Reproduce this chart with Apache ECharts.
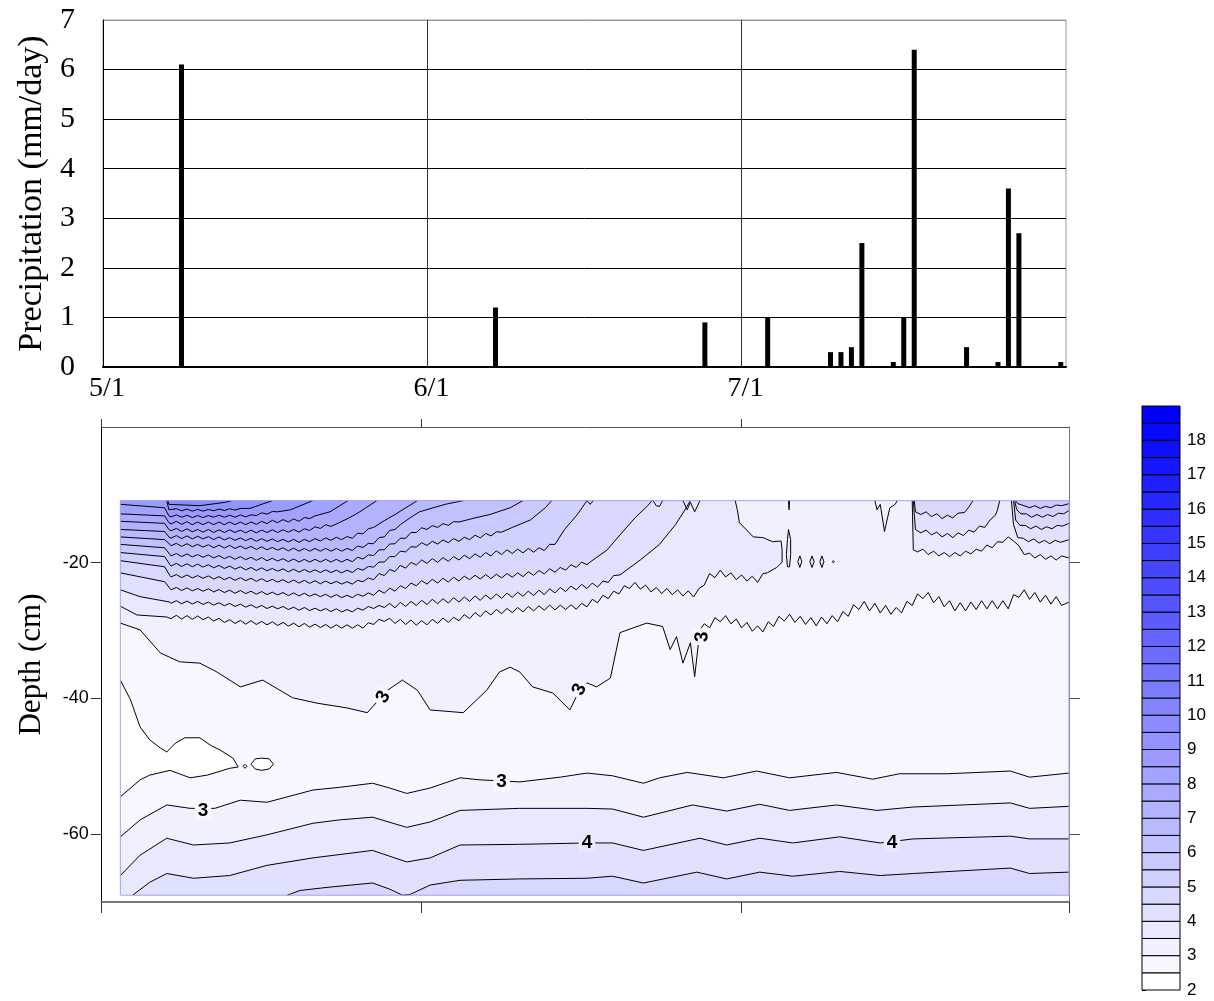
<!DOCTYPE html>
<html>
<head>
<meta charset="utf-8">
<title>Precipitation and soil moisture profile</title>
<script src="https://cdn.jsdelivr.net/npm/echarts@6.0.0/dist/echarts.min.js"></script>
<style>
  html, body { margin: 0; padding: 0; background: #fff; }
  #main { width: 1214px; height: 1001px; }
</style>
</head>
<body>
<div id="main"></div>
<script>
// ---------------- Daily precipitation ----------------
const rainDates   = ['5/8', '6/7', '6/27', '7/3', '7/9', '7/10', '7/11', '7/12', '7/15', '7/16', '7/17', '7/22', '7/25', '7/26', '7/27', '7/31'];
const rainAmounts = [6.1, 1.2, 0.9, 1.0, 0.3, 0.3, 0.4, 2.5, 0.1, 1.0, 6.4, 0.4, 0.1, 3.6, 2.7, 0.1];
const monthTicks  = ['5/1', '6/1', '7/1'];
const precipMax   = 7;

// ---------------- Soil moisture profile ----------------
// x: days after 5/1 on the profile panel, y: depth (cm)
const recordDays   = [1.75, 90.7];
const recordDepths = [-69.0, -10.85];
const panelDayTicks = [0, 30, 60, 90.7];
const depthTicks = [-60, -40, -20];
const contourLevels = [2, 2.5, 3, 3.5, 4, 4.5, 5, 5.5, 6, 6.5, 7, 7.5, 8, 8.5, 9, 9.5, 10, 10.5,
                       11, 11.5, 12, 12.5, 13, 13.5, 14, 14.5, 15, 15.5, 16, 16.5, 17, 17.5, 18, 18.5, 19];
const colorbarTicks = [2, 3, 4, 5, 6, 7, 8, 9, 10, 11, 12, 13, 14, 15, 16, 17, 18];

// isolines of the drying surface layer (wetter above), with the day/night ripple
const m30Upper = [[1.75,-28.9],[3.6,-29.9],[5.5,-33.3],[7.3,-34.6],[9.2,-34.8],[10.8,-36.1],[13.0,-38.3],[15.1,-37.3],[17.9,-39.9],[20.2,-40.7],[23.0,-41.4],[24.9,-42.1],[26.8,-38.8],[28.2,-37.3],[29.6,-38.8],[30.8,-41.7],[33.9,-42.1],[36.1,-38.8],[37.3,-36.1],[38.3,-35.4],[39.2,-36.1],[40.4,-38.3],[42.3,-39.2],[43.9,-41.7],[44.8,-38.8],[45.5,-37.7],[46.4,-38.3],[47.7,-37.0],[48.6,-30.3],[51.1,-28.9],[52.6,-29.4],[53.3,-32.8],[53.9,-30.9],[54.5,-34.8],[55.2,-31.8],[55.6,-36.8],[56.1,-29.9],
  [56.5,-29.0],[57.0,-29.6],[57.5,-28.1],[58.0,-28.7],[58.5,-27.8],[59.0,-29.0],[59.5,-28.3],[60.0,-29.6],[60.5,-28.8],[61.0,-30.1],[61.5,-29.3],[62.0,-30.2],[62.5,-28.7],[63.0,-29.4],[63.5,-27.9],[64.0,-28.6],[64.5,-27.6],[65.0,-28.8],[65.5,-27.9],[66.0,-29.1],[66.5,-28.1],[67.0,-29.3],[67.5,-28.0],[68.0,-29.0],[68.5,-27.8],[69.0,-28.7],[69.5,-27.2],[70.0,-27.9],[70.5,-26.2],[71.0,-26.9],[71.5,-25.7],[72.0,-27.1],[72.5,-26.0],[73.0,-27.4],[73.5,-26.3],[74.0,-27.6],[74.5,-26.6],[75.0,-27.4],[75.5,-25.7],[76.0,-26.3],[76.5,-24.6],[77.0,-25.3],[77.5,-24.4],[78.0,-25.9],[78.5,-25.0],[79.0,-26.5],[79.5,-25.6],[80.0,-27.1],[80.5,-25.9],[81.0,-27.1],[81.5,-25.8],[82.0,-26.9],[82.5,-25.6],[83.0,-26.8],[83.5,-25.6],[84.0,-26.8],[84.5,-25.6],[85.0,-26.8],[85.5,-24.7],[86.0,-25.1],[86.5,-24.0],[87.0,-25.4],[87.5,-24.4],[88.0,-25.8],[88.5,-24.8],[89.0,-26.1],[89.5,-25.0],[90.0,-26.3],[90.7,-25.8]];
const m35Upper = [[1.75,-26.4],[3.3,-27.7],[6.1,-28.0],
  [6.5,-28.25],[7.0,-27.75],[7.5,-28.3],[8.0,-27.8],[8.5,-28.35],[9.0,-27.85],[9.5,-28.4],[10.0,-28.0],[10.5,-28.6],[11.0,-28.2],[11.5,-28.8],[12.0,-28.4],[12.5,-28.95],[13.0,-28.5],[13.5,-29.05],[14.0,-28.55],[14.5,-29.1],[15.0,-28.65],[15.5,-29.15],[16.0,-28.7],[16.5,-29.25],[17.0,-28.8],[17.5,-29.35],[18.0,-28.9],[18.5,-29.45],[19.0,-28.95],[19.5,-29.5],[20.0,-29.05],[20.5,-29.55],[21.0,-29.1],[21.5,-29.65],[22.0,-29.15],[22.5,-29.65],[23.0,-29.15],[23.5,-29.65],[24.0,-29.15],[24.5,-29.65],[25.0,-28.85],[25.5,-29.1],[26.0,-28.35],[26.5,-28.65],[27.0,-28.2],
  [27.5,-28.95],[28.0,-28.35],[28.5,-29.1],[29.0,-28.45],[29.5,-29.2],[30.0,-28.55],[30.5,-29.15],[31.0,-28.35],[31.5,-28.95],[32.0,-28.15],[32.5,-28.8],[33.0,-28.05],[33.5,-28.55],[34.0,-27.65],[34.5,-28.25],[35.0,-27.35],[35.5,-27.95],[36.0,-27.1],[36.5,-27.7],[37.0,-26.9],[37.5,-27.5],[38.0,-26.75],[38.5,-27.35],[39.0,-26.6],[39.5,-27.25],[40.0,-26.45],[40.5,-27.1],[41.0,-26.35],[41.5,-27.0],[42.0,-26.25],[42.5,-26.95],[43.0,-26.25],[43.5,-26.9],[44.0,-26.2],[44.5,-26.85],[45.0,-26.0],
  [45.5,-26.5],[46.0,-25.4],[46.5,-25.9],[47.0,-24.8],[47.5,-25.3],[48.0,-24.2],[48.5,-24.6],[49.0,-23.4],[49.5,-23.8],[50.0,-22.9],[50.5,-23.9],[51.0,-23.3],[51.5,-24.3],[52.0,-23.65],[52.5,-24.55],[53.0,-23.8],[53.5,-24.7],[54.0,-24.0],[54.5,-24.9],[55.0,-24.15],[55.5,-25.05],[56.0,-23.8],[56.5,-23.3],[57.0,-21.6],[57.5,-22.2],[58.0,-21.1],[58.5,-22.1],[59.0,-21.5],[59.5,-22.5],[60.0,-21.8],[60.5,-22.7],[61.0,-22.0],[61.5,-22.9],[62.0,-21.6],[62.4,-21.5],
  [63.3,-20.7],[63.8,-19.9],[63.8,-18.1],[63.7,-16.8],[62.9,-16.9],[62.0,-16.3],[61.1,-16.2],[59.8,-14.1],[59.6,-12.2],[59.4,-10.85]];
const m40Upper = [[1.75,-24.0],[3.6,-25.0],[6.4,-25.8],
  [6.5,-26.0],[7.0,-25.6],[7.5,-26.05],[8.0,-25.65],[8.5,-26.1],[9.0,-25.7],[9.5,-26.15],[10.0,-25.8],[10.5,-26.25],[11.0,-25.9],[11.5,-26.35],[12.0,-26.0],[12.5,-26.45],[13.0,-26.1],[13.5,-26.55],[14.0,-26.2],[14.5,-26.65],[15.0,-26.3],[15.5,-26.75],[16.0,-26.4],[16.5,-26.8],[17.0,-26.45],[17.5,-26.9],[18.0,-26.55],[18.5,-27.0],[19.0,-26.6],[19.5,-27.05],[20.0,-26.7],[20.5,-27.1],[21.0,-26.75],[21.5,-27.2],[22.0,-26.8],[22.5,-27.25],[23.0,-26.9],[23.5,-27.25],[24.0,-26.7],[24.5,-27.0],[25.0,-26.45],[25.5,-26.75],[26.0,-26.3],[26.5,-26.6],
  [27.0,-26.0],[27.5,-26.65],[28.0,-25.85],[28.5,-26.45],[29.0,-25.7],[29.5,-26.3],[30.0,-25.55],[30.5,-26.15],[31.0,-25.4],[31.5,-26.05],[32.0,-25.3],[32.5,-25.95],[33.0,-25.15],[33.5,-25.8],[34.0,-25.05],[34.5,-25.7],[35.0,-24.9],[35.5,-25.55],[36.0,-24.75],[36.5,-25.4],[37.0,-24.6],[37.5,-25.25],[38.0,-24.5],[38.5,-25.1],[39.0,-24.35],[39.5,-24.95],[40.0,-24.2],[40.5,-24.85],[41.0,-24.05],[41.5,-24.7],[42.0,-23.85],[42.5,-24.45],[43.0,-23.65],[43.5,-24.25],[44.0,-23.45],[44.5,-24.0],[45.0,-23.2],[45.5,-23.8],[46.0,-23.0],[46.5,-23.6],[47.0,-22.7],[47.5,-22.9],[48.0,-21.9],
  [48.6,-21.8],[50.5,-19.6],[52.3,-17.3],[53.8,-14.4],[54.7,-12.2],[55.2,-10.85]];
const m45Upper = [[1.75,-21.5],[5.9,-22.8],[6.4,-23.8],
  [6.5,-24.0],[7.0,-23.65],[7.5,-24.1],[8.0,-23.7],[8.5,-24.15],[9.0,-23.8],[9.5,-24.2],[10.0,-23.85],[10.5,-24.3],[11.0,-23.95],[11.5,-24.4],[12.0,-24.05],[12.5,-24.5],[13.0,-24.1],[13.5,-24.55],[14.0,-24.2],[14.5,-24.65],[15.0,-24.25],[15.5,-24.7],[16.0,-24.35],[16.5,-24.75],[17.0,-24.4],[17.5,-24.85],[18.0,-24.45],[18.5,-24.9],[19.0,-24.5],[19.5,-24.95],[20.0,-24.6],[20.5,-25.0],[21.0,-24.65],[21.5,-25.1],[22.0,-24.7],[22.5,-25.15],[23.0,-24.8],[23.5,-25.15],[24.0,-24.65],[24.5,-24.95],[25.0,-24.45],
  [25.5,-24.8],[26.0,-24.05],[26.5,-24.5],[27.0,-23.75],[27.5,-24.2],[28.0,-23.4],[28.5,-23.8],[29.0,-23.0],[29.5,-23.4],[30.0,-22.65],[30.5,-23.15],[31.0,-22.45],[31.5,-23.0],[32.0,-22.3],[32.5,-22.85],[33.0,-22.15],[33.5,-22.7],[34.0,-22.0],[34.5,-22.5],[35.0,-21.85],[35.5,-22.4],[36.0,-21.75],[36.5,-22.35],[37.0,-21.7],[37.5,-22.25],[38.0,-21.6],[38.5,-22.15],[39.0,-21.5],[39.5,-22.05],[40.0,-21.35],[40.5,-21.85],[41.0,-21.15],[41.5,-21.65],[42.0,-20.9],[42.5,-21.4],[43.0,-20.7],[43.5,-21.1],[44.0,-20.3],[44.5,-20.7],[45.0,-19.9],[45.5,-20.3],
  [45.8,-19.9],[47.4,-18.1],[48.6,-15.9],[50.0,-13.4],[51.2,-11.6],[51.6,-10.85]];
const m50Upper = [[1.75,-19.7],[5.9,-20.6],[6.4,-21.9],
  [6.5,-22.1],[7.0,-21.75],[7.5,-22.2],[8.0,-21.8],[8.5,-22.25],[9.0,-21.9],[9.5,-22.3],[10.0,-21.95],[10.5,-22.4],[11.0,-22.05],[11.5,-22.5],[12.0,-22.15],[12.5,-22.6],[13.0,-22.2],[13.5,-22.65],[14.0,-22.3],[14.5,-22.75],[15.0,-22.35],[15.5,-22.8],[16.0,-22.45],[16.5,-22.85],[17.0,-22.5],[17.5,-22.95],[18.0,-22.55],[18.5,-23.0],[19.0,-22.6],[19.5,-23.05],[20.0,-22.65],[20.5,-23.1],[21.0,-22.7],[21.5,-23.1],[22.0,-22.75],[22.5,-23.15],[23.0,-22.8],[23.5,-23.15],[24.0,-22.6],[24.5,-22.8],[25.0,-22.25],
  [25.5,-22.5],[26.0,-21.6],[26.5,-21.9],[27.0,-21.0],[27.5,-21.3],[28.0,-20.4],[28.5,-20.8],[29.0,-19.95],[29.5,-20.35],[30.0,-19.6],[30.5,-20.1],[31.0,-19.4],[31.5,-19.95],[32.0,-19.25],[32.5,-19.8],[33.0,-19.1],[33.5,-19.6],[34.0,-18.9],[34.5,-19.4],[35.0,-18.7],[35.5,-19.2],[36.0,-18.5],[36.5,-19.0],[37.0,-18.25],[37.5,-18.8],[38.0,-18.1],[38.5,-18.65],[39.0,-18.0],[39.5,-18.55],[40.0,-17.9],[40.5,-18.45],[41.0,-17.8],[41.5,-18.2],[42.0,-17.3],[42.5,-17.3],
  [43.4,-15.1],[44.6,-12.9],[45.5,-10.85]];
const m55Upper = [[1.75,-18.5],[5.9,-19.1],[6.4,-20.3],
  [6.5,-20.5],[7.0,-20.1],[7.5,-20.55],[8.0,-20.15],[8.5,-20.6],[9.0,-20.2],[9.5,-20.65],[10.0,-20.3],[10.5,-20.75],[11.0,-20.4],[11.5,-20.85],[12.0,-20.5],[12.5,-20.95],[13.0,-20.6],[13.5,-21.05],[14.0,-20.7],[14.5,-21.15],[15.0,-20.75],[15.5,-21.2],[16.0,-20.85],[16.5,-21.25],[17.0,-20.9],[17.5,-21.35],[18.0,-20.95],[18.5,-21.4],[19.0,-21.0],[19.5,-21.4],[20.0,-21.05],[20.5,-21.45],[21.0,-21.05],[21.5,-21.45],[22.0,-21.1],[22.5,-21.5],[23.0,-21.1],[23.5,-21.45],[24.0,-20.85],[24.5,-21.1],[25.0,-20.55],[25.5,-20.65],[26.0,-19.9],[26.5,-19.9],[27.0,-19.1],[27.5,-19.1],[28.0,-18.3],[28.5,-18.4],[29.0,-17.65],[29.5,-17.7],[30.0,-17.05],[30.5,-17.45],[31.0,-16.85],[31.5,-17.25],[32.0,-16.65],[32.5,-17.05],[33.0,-16.45],[33.5,-16.85],[34.0,-16.25],[34.5,-16.6],[35.0,-15.95],[35.5,-16.35],[36.0,-15.7],[36.5,-16.05],[37.0,-15.45],[37.5,-15.5],
  [38.5,-14.8],[40.2,-13.7],[41.6,-11.9],[42.2,-10.85]];
const m60Upper = [[1.75,-17.3],[5.9,-17.8],[6.4,-18.8],
  [6.5,-19.0],[7.0,-18.65],[7.5,-19.1],[8.0,-18.7],[8.5,-19.15],[9.0,-18.8],[9.5,-19.2],[10.0,-18.85],[10.5,-19.3],[11.0,-18.95],[11.5,-19.4],[12.0,-19.05],[12.5,-19.5],[13.0,-19.1],[13.5,-19.55],[14.0,-19.2],[14.5,-19.65],[15.0,-19.25],[15.5,-19.7],[16.0,-19.35],[16.5,-19.75],[17.0,-19.4],[17.5,-19.85],[18.0,-19.45],[18.5,-19.9],[19.0,-19.5],[19.5,-19.9],[20.0,-19.5],[20.5,-19.9],[21.0,-19.5],[21.5,-19.9],[22.0,-19.5],[22.5,-19.9],[23.0,-19.5],[23.5,-19.85],[24.0,-19.2],[24.5,-19.45],[25.0,-18.85],[25.5,-18.95],[26.0,-18.1],[26.5,-18.1],[27.0,-17.25],[27.5,-17.2],[28.0,-16.4],[28.5,-16.4],[29.0,-15.55],[29.5,-15.55],[30.0,-14.85],[30.5,-15.1],[31.0,-14.55],[31.5,-14.8],[32.0,-14.25],[32.5,-14.5],[33.0,-13.95],[33.5,-14.0],
  [35.0,-13.4],[36.4,-12.9],[38.3,-11.9],[39.5,-10.85]];
const m65Upper = [[1.75,-16.2],[5.9,-16.6],[6.4,-17.3],
  [6.5,-17.5],[7.0,-17.15],[7.5,-17.6],[8.0,-17.2],[8.5,-17.65],[9.0,-17.3],[9.5,-17.7],[10.0,-17.35],[10.5,-17.8],[11.0,-17.4],[11.5,-17.85],[12.0,-17.45],[12.5,-17.9],[13.0,-17.55],[13.5,-17.95],[14.0,-17.6],[14.5,-18.05],[15.0,-17.65],[15.5,-18.1],[16.0,-17.75],[16.5,-18.15],[17.0,-17.8],[17.5,-18.25],[18.0,-17.85],[18.5,-18.3],[19.0,-17.9],[19.5,-18.3],[20.0,-17.9],[20.5,-18.3],[21.0,-17.9],[21.5,-18.3],[22.0,-17.9],[22.5,-18.3],[23.0,-17.9],[23.5,-18.2],[24.0,-17.55],[24.5,-17.75],[25.0,-17.15],[25.5,-17.2],[26.0,-16.3],[26.5,-16.2],[27.0,-15.25],[27.5,-15.1],[28.0,-14.4],
  [29.0,-13.3],[29.8,-12.5],[32.2,-11.4],[33.9,-10.85]];
const m70Upper = [[1.75,-15.1],[5.9,-15.4],[6.3,-16.2],
  [6.5,-16.4],[7.0,-16.0],[7.5,-16.45],[8.0,-16.05],[8.5,-16.5],[9.0,-16.1],[9.5,-16.5],[10.0,-16.15],[10.5,-16.6],[11.0,-16.2],[11.5,-16.65],[12.0,-16.3],[12.5,-16.7],[13.0,-16.35],[13.5,-16.75],[14.0,-16.4],[14.5,-16.85],[15.0,-16.45],[15.5,-16.85],[16.0,-16.5],[16.5,-16.9],[17.0,-16.55],[17.5,-16.95],[18.0,-16.55],[18.5,-17.0],[19.0,-16.55],[19.5,-16.9],[20.0,-16.45],[20.5,-16.8],[21.0,-16.35],[21.5,-16.7],[22.0,-16.25],[22.5,-16.6],[23.0,-16.15],[23.5,-16.4],[24.0,-15.65],[24.5,-15.75],[25.0,-15.0],[25.5,-14.8],
  [26.5,-13.8],[27.5,-12.9],[29.6,-10.85]];
const m75Upper = [[1.75,-13.9],[5.9,-14.2],[6.3,-15.1],
  [6.5,-15.3],[7.0,-14.95],[7.5,-15.4],[8.0,-15.0],[8.5,-15.45],[9.0,-15.1],[9.5,-15.5],[10.0,-15.1],[10.5,-15.55],[11.0,-15.15],[11.5,-15.55],[12.0,-15.15],[12.5,-15.55],[13.0,-15.2],[13.5,-15.6],[14.0,-15.2],[14.5,-15.6],[15.0,-15.2],[15.5,-15.55],[16.0,-15.15],[16.5,-15.55],[17.0,-15.15],[17.5,-15.5],[18.0,-15.1],[18.5,-15.5],[19.0,-15.0],[19.5,-15.25],[20.0,-14.7],[20.5,-14.95],[21.0,-14.4],[21.5,-14.65],[22.0,-14.3],
  [23.2,-13.4],[24.2,-12.5],[25.8,-10.85]];
const m80Upper = [[1.75,-12.8],[5.9,-13.1],[6.3,-14.1],
  [6.5,-14.3],[7.0,-13.9],[7.5,-14.35],[8.0,-13.95],[8.5,-14.4],[9.0,-14.0],[9.5,-14.4],[10.0,-14.0],[10.5,-14.4],[11.0,-14.0],[11.5,-14.4],[12.0,-14.0],[12.5,-14.4],[13.0,-14.0],[13.5,-14.4],[14.0,-14.0],[14.5,-14.35],[15.0,-13.9],[15.5,-14.25],[16.0,-13.75],[16.5,-14.1],[17.0,-13.65],[17.5,-14.0],[18.0,-13.55],[18.5,-13.9],[19.0,-13.35],[19.5,-13.5],[20.0,-13.1],
  [21.4,-12.5],[23.1,-10.85]];
const m85Upper = [[1.75,-11.4],[5.9,-11.9],[6.3,-13.1],
  [6.5,-13.25],[7.0,-12.95],[7.5,-13.3],[8.0,-13.0],[8.5,-13.35],[9.0,-13.05],[9.5,-13.35],[10.0,-13.05],[10.5,-13.3],[11.0,-13.0],[11.5,-13.3],[12.0,-13.0],[12.5,-13.3],[13.0,-12.95],[13.5,-13.25],[14.0,-12.95],[14.5,-13.05],[15.0,-12.65],[15.5,-12.85],[16.0,-12.45],[16.5,-12.5],
  [17.7,-12.2],[19.8,-10.85]];
const m90Upper = [[6.1,-10.85],[6.3,-12.2],[7.0,-12.05],[7.5,-12.35],[8.0,-12.1],[8.5,-12.4],[9.0,-12.15],[9.5,-12.4],[10.0,-12.15],[10.5,-12.35],[11.0,-12.1],[11.5,-12.3],[12.0,-12.05],[12.5,-12.25],[13.0,-12.0],[13.9,-12.0],[16.0,-10.85]];
const m95Upper = [[6.2,-10.85],[6.3,-11.4],[9.2,-11.6],[11.6,-11.1],[12.2,-10.85]];

// wetting fronts after the July storms
const m35July = [[76.0,-10.85],[76.1,-18.1],[76.5,-18.4],[77.0,-18.0],[77.5,-18.8],[78.0,-18.3],[78.5,-19.0],[79.0,-18.5],[79.5,-19.1],[80.0,-18.5],[80.5,-19.0],[81.0,-18.3],[81.5,-18.7],[82.0,-18.0],[82.5,-18.3],[83.0,-17.4],[83.5,-17.8],[84.0,-16.9],[84.5,-17.0],[85.0,-16.2],[85.5,-16.8],[86.0,-17.5],[86.5,-18.8],[87.0,-18.6],[87.5,-19.3],[88.0,-18.8],[88.5,-19.5],[89.0,-19.0],[89.5,-19.6],[90.0,-19.0],[90.7,-19.3]];
const m40July = [[76.1,-10.85],[76.3,-15.1],[76.8,-15.6],[77.3,-15.2],[77.8,-15.9],[78.3,-15.5],[78.8,-16.2],[79.3,-15.7],[79.8,-16.3],[80.3,-15.6],[80.8,-16.0],[81.3,-15.2],[81.8,-15.5],[82.3,-14.6],[82.8,-14.8],[83.3,-13.7],[83.8,-13.0],[84.0,-12.2],[84.2,-10.85]];
const m45July = [[76.2,-10.85],[76.3,-12.5],[76.8,-12.9],[77.3,-12.5],[77.8,-13.2],[78.3,-12.8],[78.8,-13.5],[79.3,-13.0],[79.8,-13.4],[80.3,-12.7],[80.9,-12.6],[81.3,-11.8],[81.7,-10.85]];
const m40LateJuly = [[85.3,-10.85],[85.5,-14.4],[85.9,-16.3],[86.4,-16.4],[86.9,-16.9],[87.4,-16.5],[87.9,-17.1],[88.4,-16.7],[88.9,-17.2],[89.4,-16.7],[89.9,-17.0],[90.7,-16.6]];
const m45LateJuly = [[85.5,-10.85],[85.7,-13.7],[86.1,-14.5],[86.6,-14.5],[87.1,-15.0],[87.6,-14.6],[88.1,-15.1],[88.6,-14.7],[89.1,-15.0],[89.6,-14.5],[90.1,-14.6],[90.7,-14.2]];
const m50LateJuly = [[85.6,-10.85],[85.8,-12.2],[86.2,-12.8],[86.7,-12.8],[87.2,-13.3],[87.7,-12.9],[88.2,-13.3],[88.7,-12.9],[89.2,-13.2],[89.7,-12.7],[90.2,-12.8],[90.7,-12.3]];
const m55LateJuly = [[85.7,-10.85],[85.9,-11.3],[86.5,-11.6],[87.0,-11.9],[87.5,-11.6],[88.0,-12.0],[88.5,-11.7],[89.0,-11.9],[89.5,-11.5],[90.0,-11.6],[90.7,-11.3]];

// dry pocket at mid depth (drier inside)
const m25Pocket = [[1.75,-37.3],[2.7,-40.2],[3.6,-44.2],[4.5,-46.1],[5.5,-47.3],[6.1,-47.9],[6.9,-46.6],[7.8,-45.8],[9.2,-45.8],[10.2,-46.9],[11.1,-47.6],[12.3,-48.8],[12.8,-50.1],[12.0,-50.3],[9.9,-51.3],[8.3,-51.7],[6.4,-50.6],[4.5,-51.3],[3.6,-52.0],[1.75,-54.5]];
const m25IsleA = [[13.25,-50.0],[13.43,-49.7],[13.62,-50.0],[13.43,-50.3]];
const m25IsleB = [[14.0,-49.7],[14.4,-48.9],[15.0,-48.8],[15.7,-48.9],[16.1,-49.7],[15.7,-50.4],[15.0,-50.6],[14.4,-50.4]];

// small cells near the tongue tip (wetter inside)
const m35CellA = [[64.4,-15.1],[64.6,-16.6],[64.6,-18.8],[64.5,-20.6],[64.3,-20.6],[64.2,-18.8],[64.3,-16.6]];
const m35CellB = [[65.46,-19.0],[65.65,-19.85],[65.46,-20.7],[65.27,-19.85]];
const m35CellC = [[66.6,-19.0],[66.8,-19.85],[66.6,-20.7],[66.4,-19.85]];
const m35CellD = [[67.53,-19.0],[67.72,-19.85],[67.53,-20.7],[67.34,-19.85]];
const m35CellE = [[68.5,-19.85],[68.6,-19.7],[68.7,-19.85],[68.6,-20.0]];

// short ripples at the shallowest sensor
const rippleA = [[45.5,-10.85],[45.8,-11.4],[46.1,-10.85]];
const rippleB = [[51.7,-10.85],[52.0,-11.6],[52.3,-11.7],[52.6,-10.85]];
const rippleC = [[54.5,-10.85],[54.9,-12.2],[55.2,-11.1],[55.6,-12.5],[56.1,-10.85]];
const rippleD = [[64.4,-10.85],[64.45,-12.2],[64.5,-10.85]];
const rippleE = [[72.5,-10.85],[72.7,-12.2],[73.0,-11.4],[73.4,-15.4],[73.9,-11.9],[74.4,-11.4],[74.6,-10.85]];

// isolines of the wetter subsoil (wetter below)
const m30Lower = [[1.75,-60.4],[3.6,-57.9],[6.1,-55.7],[8.3,-56.2],[10.6,-56.2],[13.0,-55.0],[15.5,-55.3],[19.8,-53.5],[22.3,-53.1],[25.4,-52.5],[27.0,-53.2],[28.6,-54.0],[30.8,-53.2],[33.6,-51.7],[35.5,-52.0],[39.2,-52.3],[43.0,-51.6],[45.5,-51.0],[47.9,-51.4],[50.8,-52.5],[52.3,-51.7],[54.9,-50.9],[58.3,-51.7],[61.4,-50.7],[64.5,-51.7],[68.9,-50.9],[72.3,-51.9],[74.8,-51.1],[79.3,-51.1],[85.2,-50.7],[87.0,-51.6],[90.7,-51.0]];
const m35Lower = [[1.75,-66.1],[3.6,-63.1],[6.1,-60.6],[8.6,-61.6],[12.0,-61.3],[15.5,-60.1],[19.8,-58.4],[22.3,-57.9],[25.4,-57.5],[28.6,-59.0],[30.8,-58.2],[33.6,-56.5],[39.2,-56.2],[45.5,-56.2],[47.9,-56.3],[50.8,-57.5],[55.4,-55.7],[58.6,-56.6],[61.7,-55.6],[64.5,-56.5],[68.9,-55.7],[72.7,-56.5],[76.1,-56.0],[85.2,-55.4],[87.0,-56.2],[90.7,-55.9]];
const m40Lower = [[2.9,-69.0],[4.5,-67.1],[6.1,-65.8],[8.6,-66.5],[12.0,-66.1],[15.5,-64.6],[19.8,-63.5],[25.4,-62.4],[28.6,-64.1],[30.8,-63.5],[33.6,-61.6],[39.2,-61.5],[45.5,-61.3],[47.9,-61.3],[50.8,-62.4],[56.1,-60.6],[58.6,-61.6],[61.7,-60.6],[64.8,-61.3],[69.2,-60.4],[73.0,-61.3],[76.1,-60.7],[85.2,-60.3],[87.0,-60.7],[90.7,-60.7]];
const m45Lower = [[17.4,-69.0],[18.6,-68.3],[21.4,-67.8],[25.4,-67.2],[27.0,-68.1],[28.2,-69.0],[28.9,-68.9],[30.8,-67.5],[33.6,-66.8],[39.2,-66.6],[45.5,-66.5],[47.9,-66.2],[50.8,-67.2],[55.8,-65.6],[58.6,-66.6],[61.7,-65.6],[64.8,-66.2],[69.2,-65.5],[73.0,-66.1],[76.1,-65.8],[85.2,-65.0],[87.0,-65.8],[90.7,-65.6]];

// contour set: level, vertices, which side of the traced direction is wetter
const soilContours = [
  { level: 2.5, pts: m25Pocket, wet: 'left' },
  { level: 2.5, pts: m25IsleA, closed: true, wet: 'outside' },
  { level: 2.5, pts: m25IsleB, closed: true, wet: 'outside' },
  { level: 3.0, pts: m30Upper, wet: 'left' },
  { level: 3.0, pts: m30Lower, wet: 'right' },
  { level: 3.5, pts: m35Upper, wet: 'left' },
  { level: 3.5, pts: m35Lower, wet: 'right' },
  { level: 3.5, pts: m35July, wet: 'left' },
  { level: 3.5, pts: m35CellA, closed: true, wet: 'inside' },
  { level: 3.5, pts: m35CellB, closed: true, wet: 'inside' },
  { level: 3.5, pts: m35CellC, closed: true, wet: 'inside' },
  { level: 3.5, pts: m35CellD, closed: true, wet: 'inside' },
  { level: 3.5, pts: m35CellE, closed: true, wet: 'inside' },
  { level: 4.0, pts: m40Upper, wet: 'left' },
  { level: 4.0, pts: m40Lower, wet: 'right' },
  { level: 4.0, pts: m40July, wet: 'left' },
  { level: 4.0, pts: m40LateJuly, wet: 'left' },
  { level: 4.5, pts: m45Upper, wet: 'left' },
  { level: 4.5, pts: m45Lower, wet: 'right' },
  { level: 4.5, pts: m45July, wet: 'left' },
  { level: 4.5, pts: m45LateJuly, wet: 'left' },
  { level: 5.0, pts: m50Upper, wet: 'left' },
  { level: 5.0, pts: m50LateJuly, wet: 'left' },
  { level: 5.5, pts: m55Upper, wet: 'left' },
  { level: 5.5, pts: m55LateJuly, wet: 'left' },
  { level: 6.0, pts: m60Upper, wet: 'left' },
  { level: 6.5, pts: m65Upper, wet: 'left' },
  { level: 7.0, pts: m70Upper, wet: 'left' },
  { level: 7.5, pts: m75Upper, wet: 'left' },
  { level: 8.0, pts: m80Upper, wet: 'left' },
  { level: 8.5, pts: m85Upper, wet: 'left' },
  { level: 9.0, pts: m90Upper, wet: 'left' },
  { level: 9.5, pts: m95Upper, wet: 'left' }
];
const soilRipples = [rippleA, rippleB, rippleC, rippleD, rippleE];

// where the level numbers sit on their isolines
const contourLabelSpots = [
  { line: m30Upper, at: [26.4, -39.8], angle: 60 },
  { line: m30Upper, at: [44.8, -38.7], angle: 65 },
  { line: m30Upper, at: [56.3, -30.9], angle: 88 },
  { line: m30Lower, at: [9.5, -56.5], angle: 0 },
  { line: m30Lower, at: [37.5, -52.3], angle: 0 },
  { line: m40Lower, at: [45.5, -61.3], angle: 0 },
  { line: m40Lower, at: [74.1, -61.2], angle: 0 }
];

// ---------------- helpers ----------------
const monthStart = { 5: 0, 6: 31, 7: 61, 8: 92 };
function dayOf(md) {
  const parts = md.split('/').map(Number);
  return monthStart[parts[0]] + parts[1] - 1;
}
function bandColor(level) {
  const i = Math.round((level - contourLevels[0]) / 0.5);
  const n = contourLevels.length - 2;
  const c = Math.round(255 * (1 - i / n));
  return 'rgb(' + c + ',' + c + ',255)';
}

const SERIF = '"Times New Roman", "Liberation Serif", serif';
const SANS = 'Arial, "Liberation Sans", sans-serif';

const rainData = rainDates.map((d, i) => [dayOf(d) + 0.5, rainAmounts[i]]);
const monthTickValues = monthTicks.map(dayOf);

function renderSoil(params, api) {
  const x0 = recordDays[0], x1 = recordDays[1], y0 = recordDepths[0], y1 = recordDepths[1];
  const W = x1 - x0, H = y1 - y0, P = 2 * (W + H);
  const corners = [
    { s: 0, pt: [x0, y0] }, { s: W, pt: [x1, y0] },
    { s: W + H, pt: [x1, y1] }, { s: 2 * W + H, pt: [x0, y1] }
  ];
  function onEdge(p) {
    const dl = Math.abs(p[0] - x0), dr = Math.abs(p[0] - x1), db = Math.abs(p[1] - y0), dt = Math.abs(p[1] - y1);
    const m = Math.min(dl, dr, db, dt);
    if (m === db) return { s: p[0] - x0, pt: [p[0], y0] };
    if (m === dr) return { s: W + (p[1] - y0), pt: [x1, p[1]] };
    if (m === dt) return { s: W + H + (x1 - p[0]), pt: [p[0], y1] };
    return { s: 2 * W + H + (y1 - p[1]), pt: [x0, p[1]] };
  }
  // close an open isoline along the panel edge so the wetter side is enclosed
  function wetRegion(pts) {
    const a = onEdge(pts[0]), b = onEdge(pts[pts.length - 1]);
    const out = pts.slice();
    out[0] = a.pt; out[out.length - 1] = b.pt;
    const span = ((a.s - b.s) % P + P) % P;
    corners.map(c => ({ d: ((c.s - b.s) % P + P) % P, pt: c.pt }))
      .filter(c => c.d > 1e-9 && c.d < span)
      .sort((u, v) => u.d - v.d)
      .forEach(c => out.push(c.pt));
    return out;
  }
  const px = pts => pts.map(p => api.coord(p));
  const kids = [];
  // driest band as the background of the record
  kids.push({ type: 'polygon', shape: { points: px([[x0, y0], [x1, y0], [x1, y1], [x0, y1]]) },
              style: { fill: bandColor(contourLevels[0]), stroke: null } });
  const levels = Array.from(new Set(soilContours.map(c => c.level))).sort((a, b) => a - b);
  levels.forEach(lv => {
    const group = soilContours.filter(c => c.level === lv);
    group.forEach(c => {
      if (c.closed) {
        if (c.wet === 'inside') kids.push({ type: 'polygon', shape: { points: px(c.pts) }, style: { fill: bandColor(lv), stroke: null } });
        return;
      }
      const ordered = c.wet === 'left' ? c.pts : c.pts.slice().reverse();
      kids.push({ type: 'polygon', shape: { points: px(wetRegion(ordered)) }, style: { fill: bandColor(lv), stroke: null } });
    });
    group.forEach(c => {
      if (c.closed && c.wet === 'outside') {
        kids.push({ type: 'polygon', shape: { points: px(c.pts) }, style: { fill: bandColor(lv - 0.5), stroke: null } });
      }
    });
  });
  // isolines
  soilContours.forEach(c => {
    kids.push({ type: c.closed ? 'polygon' : 'polyline', shape: { points: px(c.pts) },
                style: { fill: null, stroke: '#000', lineWidth: 1, lineJoin: 'round' } });
  });
  soilRipples.forEach(r => {
    kids.push({ type: 'polyline', shape: { points: px(r) }, style: { fill: null, stroke: '#000', lineWidth: 1 } });
  });
  // level numbers
  contourLabelSpots.forEach(spot => {
    const c = soilContours.find(k => k.pts === spot.line);
    const p = api.coord(spot.at);
    kids.push({
      type: 'text', x: p[0], y: p[1], rotation: spot.angle * Math.PI / 180,
      style: {
        text: String(c.level), fill: '#000', font: 'bold 19px ' + SANS,
        align: 'center', verticalAlign: 'middle',
        backgroundColor: bandColor(c.level - 0.5), padding: [0, 3]
      }
    });
  });
  // record outline
  kids.push({ type: 'polygon', shape: { points: px([[x0, y0], [x1, y0], [x1, y1], [x0, y1]]) },
              style: { fill: null, stroke: '#a3a3ff', lineWidth: 1 } });
  return { type: 'group', children: kids };
}

function renderColorbar(params, api) {
  const lo = api.value(0), hi = api.value(1);
  const a = api.coord([0, hi]), b = api.coord([1, lo]);
  return {
    type: 'rect',
    shape: { x: a[0], y: a[1], width: b[0] - a[0], height: b[1] - a[1] },
    style: { fill: bandColor(lo), stroke: '#000', lineWidth: 1 }
  };
}
const colorbarData = contourLevels.slice(0, -1).map((lv, i) => [lv, contourLevels[i + 1]]);

const chart = echarts.init(document.getElementById('main'), null, { renderer: 'canvas' });
chart.setOption({
  animation: false,
  backgroundColor: '#fff',
  grid: [
    { left: 103, top: 20, width: 963, height: 347, show: true, borderColor: '#999', borderWidth: 1,
      backgroundColor: 'transparent', containLabel: false, outerBoundsMode: 'none' },
    { left: 101.7, top: 427, width: 967.3, height: 475, show: false, containLabel: false, outerBoundsMode: 'none' },
    { left: 1142, top: 406, width: 38, height: 584, show: false, containLabel: false, outerBoundsMode: 'none' }
  ],
  xAxis: [
    {
      gridIndex: 0, type: 'value', min: 0, max: 92,
      axisLine: { show: true, onZero: false, lineStyle: { color: '#000', width: 2 } },
      axisTick: { show: false },
      splitLine: { show: false },
      axisLabel: {
        customValues: monthTickValues, margin: 8, color: '#000',
        fontFamily: SERIF, fontSize: 28, padding: [0, 0, 0, 8],
        formatter: v => monthTicks[monthTickValues.indexOf(v)] || ''
      }
    },
    {
      gridIndex: 1, type: 'value', min: 0, max: recordDays[1], position: 'bottom',
      axisLine: { show: true, onZero: false, lineStyle: { color: '#777', width: 2 } },
      axisTick: { show: true, customValues: panelDayTicks, length: 11, lineStyle: { color: '#333' } },
      axisLabel: { show: false },
      splitLine: { show: false }
    },
    {
      gridIndex: 1, type: 'value', min: 0, max: recordDays[1], position: 'top',
      axisLine: { show: true, onZero: false, lineStyle: { color: '#555', width: 1 } },
      axisTick: { show: true, customValues: panelDayTicks.slice(0, 3), length: 8, lineStyle: { color: '#333' } },
      axisLabel: { show: false },
      splitLine: { show: false }
    },
    {
      gridIndex: 2, type: 'value', min: 0, max: 1, show: false
    }
  ],
  yAxis: [
    {
      gridIndex: 0, type: 'value', min: 0, max: precipMax, interval: 1,
      name: 'Precipitation (mm/day)', nameLocation: 'middle', nameGap: 54,
      nameTextStyle: { fontFamily: SERIF, fontSize: 34, color: '#000' },
      axisLine: { show: true, lineStyle: { color: '#000', width: 1 } },
      axisTick: { show: false },
      axisLabel: { margin: 28, color: '#000', fontFamily: SERIF, fontSize: 30 },
      splitLine: { show: true, lineStyle: { color: ['#000', '#000', '#000', '#000', '#000', '#000', '#000', '#999'], width: 1 } }
    },
    {
      gridIndex: 1, type: 'value', min: -70, max: 0, position: 'left',
      name: 'Depth (cm)', nameLocation: 'middle', nameGap: 54,
      nameTextStyle: { fontFamily: SERIF, fontSize: 31, color: '#000' },
      axisLine: { show: true, onZero: false, lineStyle: { color: '#000', width: 1 } },
      axisTick: { show: true, customValues: depthTicks, length: 11, lineStyle: { color: '#333' } },
      axisLabel: { customValues: depthTicks, margin: 13, color: '#000', fontFamily: SANS, fontSize: 18 },
      splitLine: { show: false }
    },
    {
      gridIndex: 1, type: 'value', min: -70, max: 0, position: 'right',
      axisLine: { show: true, onZero: false, lineStyle: { color: '#777', width: 1 } },
      axisTick: { show: true, customValues: depthTicks, length: 11, lineStyle: { color: '#555' } },
      axisLabel: { show: false },
      splitLine: { show: false }
    },
    {
      gridIndex: 2, type: 'value', min: contourLevels[0], max: contourLevels[contourLevels.length - 1], interval: 1,
      position: 'right',
      axisLine: { show: true, lineStyle: { color: '#777', width: 1 } },
      axisTick: { show: true, length: 4, lineStyle: { color: '#000' } },
      axisLabel: {
        margin: 7, color: '#000', fontFamily: SANS, fontSize: 17,
        formatter: v => (colorbarTicks.indexOf(v) >= 0 ? String(v) : '')
      },
      splitLine: { show: false }
    }
  ],
  series: [
    {
      type: 'bar', xAxisIndex: 0, yAxisIndex: 0, data: rainData, barWidth: 5,
      itemStyle: { color: '#000' }, silent: true,
      markLine: {
        silent: true, symbol: ['none', 'none'], label: { show: false },
        lineStyle: { color: '#333', width: 1, type: 'solid' },
        data: [{ xAxis: monthTickValues[1] }, { xAxis: monthTickValues[2] }]
      }
    },
    {
      type: 'custom', xAxisIndex: 1, yAxisIndex: 1, silent: true, clip: false,
      data: [[recordDays[0], recordDepths[0]]],
      renderItem: renderSoil
    },
    {
      type: 'custom', xAxisIndex: 3, yAxisIndex: 3, silent: true,
      data: colorbarData, encode: { x: 0, y: 1 },
      renderItem: renderColorbar
    }
  ]
});
</script>
</body>
</html>
